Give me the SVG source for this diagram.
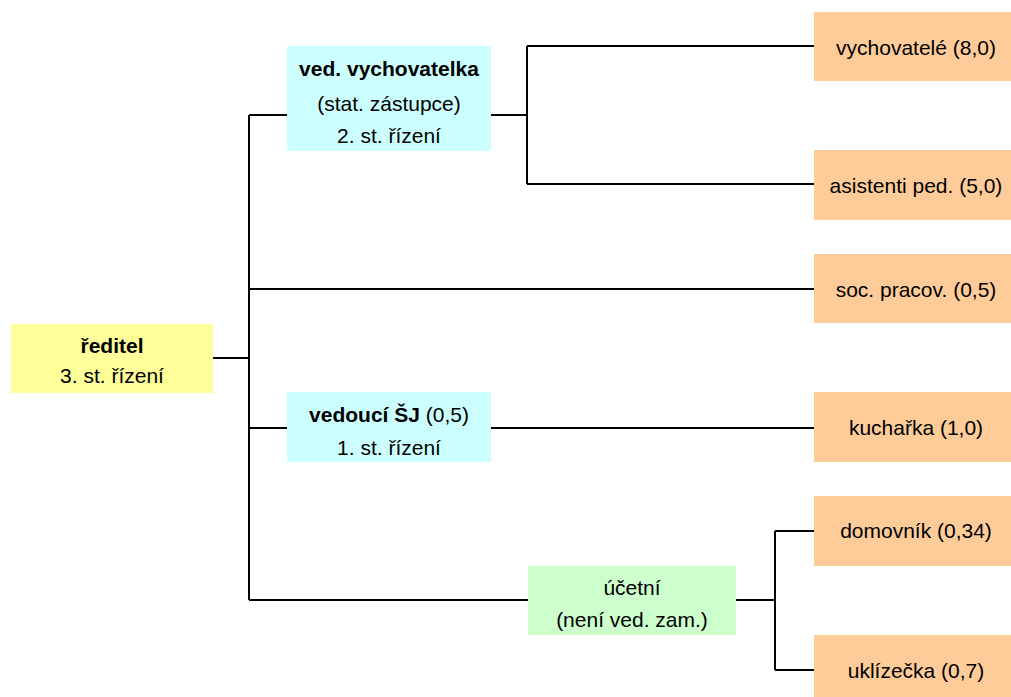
<svg xmlns="http://www.w3.org/2000/svg" width="1011" height="697" viewBox="0 0 1011 697">
<style>
text{font-family:"Liberation Sans",Arial,sans-serif;font-size:21px;fill:#000;text-anchor:middle}
.b{font-weight:bold}
.y{fill:#FFFF99}.c{fill:#CCFFFF}.g{fill:#CCFFCC}.o{fill:#FFCC99}
.ln{fill:none;stroke:#000;stroke-width:2}
</style>
<rect width="1011" height="697" fill="#fff"/>
<g id="connectors" class="ln">
<path d="M213,358H249M249,115V600M249,115H287M249,289H814M249,428H287M249,600H528"/>
<path d="M491,115H527M527,46V184M527,46H814M527,184H814"/>
<path d="M491,428H814"/>
<path d="M736,600H775M775,531V670M775,531H814M775,670H814"/>
</g>
<g id="reditel"><rect class="y" x="11" y="324" width="202" height="69"/><text x="112" y="353" class="b">ředitel</text><text x="112" y="383">3. st. řízení</text></g>
<g id="ved-vychovatelka"><rect class="c" x="287" y="46" width="204" height="105"/><text x="389" y="76" class="b">ved. vychovatelka</text><text x="389" y="111">(stat. zástupce)</text><text x="389" y="143">2. st. řízení</text></g>
<g id="vedouci-sj"><rect class="c" x="287" y="392" width="204" height="70"/><text x="389" y="422"><tspan class="b">vedoucí ŠJ</tspan> (0,5)</text><text x="389" y="455">1. st. řízení</text></g>
<g id="ucetni"><rect class="g" x="528" y="566" width="208" height="69"/><text x="632" y="595">účetní</text><text x="632" y="627">(není ved. zam.)</text></g>
<g id="vychovatele"><rect class="o" x="814" y="12" width="204" height="69"/><text x="916" y="55">vychovatelé (8,0)</text></g>
<g id="asistenti"><rect class="o" x="814" y="150" width="204" height="70"/><text x="916" y="193">asistenti ped. (5,0)</text></g>
<g id="soc-pracov"><rect class="o" x="814" y="254" width="204" height="69"/><text x="916" y="297">soc. pracov. (0,5)</text></g>
<g id="kucharka"><rect class="o" x="814" y="392" width="204" height="70"/><text x="916" y="435">kuchařka (1,0)</text></g>
<g id="domovnik"><rect class="o" x="814" y="496" width="204" height="70"/><text x="916" y="538">domovník (0,34)</text></g>
<g id="uklizecka"><rect class="o" x="814" y="635" width="204" height="70"/><text x="916" y="678">uklízečka (0,7)</text></g>
</svg>
